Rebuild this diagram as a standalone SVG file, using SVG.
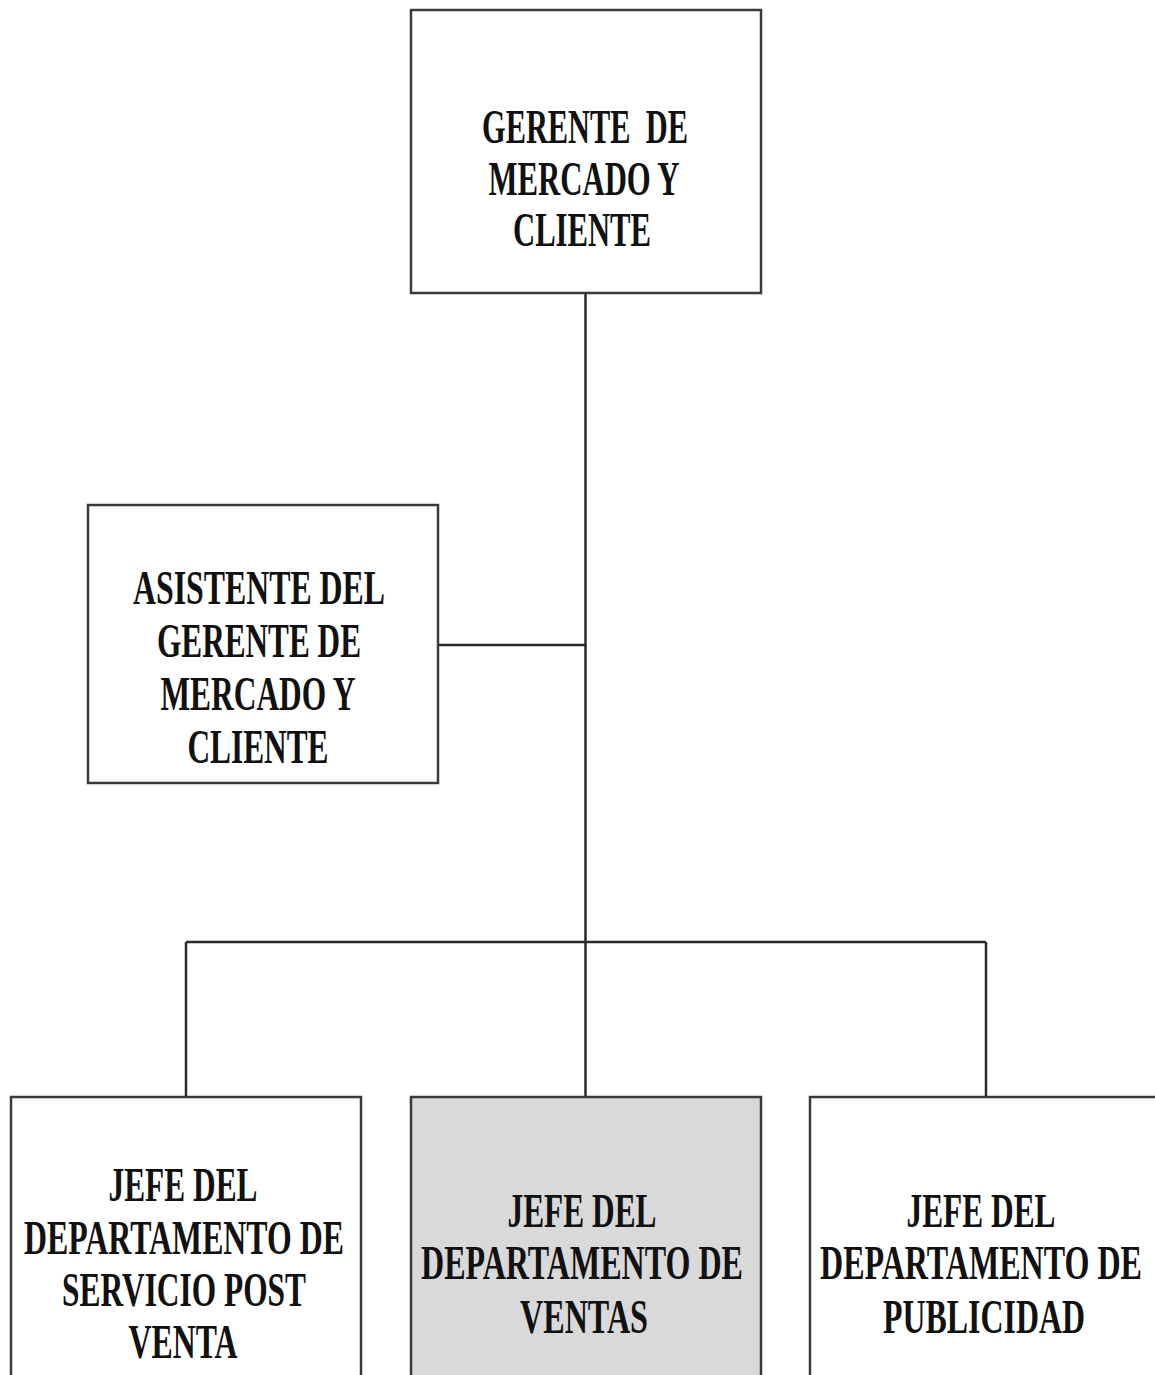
<svg xmlns="http://www.w3.org/2000/svg" width="1155" height="1375" viewBox="0 0 1155 1375">
  <style>
    .box { fill: #ffffff; stroke: #3a3a3a; stroke-width: 2.5; }
    .box.shaded { fill: #d9d9d9; }
    .lbl { font-family: "Liberation Serif", "Times New Roman", serif; font-weight: bold; font-size: 49px; fill: #111111; text-anchor: middle; }
    .wire { fill: none; stroke: #2a2a2a; stroke-width: 2.5; }
  </style>
  <rect x="0" y="0" width="1155" height="1375" fill="#ffffff"/>

  <!-- connectors -->
  <g id="connectors">
    <line class="wire" x1="585.5" y1="293" x2="585.5" y2="1097"/>
    <line class="wire" x1="438" y1="645" x2="585.5" y2="645"/>
    <line class="wire" x1="186" y1="942" x2="986" y2="942"/>
    <line class="wire" x1="186" y1="942" x2="186" y2="1097"/>
    <line class="wire" x1="986" y1="942" x2="986" y2="1097"/>
  </g>

  <!-- top manager -->
  <g id="gerente">
    <rect class="box" x="411" y="10" width="350" height="283"/>
    <text class="lbl" x="585" y="143" textLength="206" lengthAdjust="spacingAndGlyphs" xml:space="preserve">GERENTE  DE</text>
    <text class="lbl" x="584" y="195" textLength="191" lengthAdjust="spacingAndGlyphs">MERCADO Y</text>
    <text class="lbl" x="582" y="246" textLength="138" lengthAdjust="spacingAndGlyphs">CLIENTE</text>
  </g>

  <!-- assistant -->
  <g id="asistente">
    <rect class="box" x="88" y="505" width="350" height="278"/>
    <text class="lbl" x="259" y="604" textLength="252" lengthAdjust="spacingAndGlyphs">ASISTENTE DEL</text>
    <text class="lbl" x="259" y="657" textLength="204" lengthAdjust="spacingAndGlyphs">GERENTE DE</text>
    <text class="lbl" x="258" y="710" textLength="195" lengthAdjust="spacingAndGlyphs">MERCADO Y</text>
    <text class="lbl" x="258" y="763" textLength="141" lengthAdjust="spacingAndGlyphs">CLIENTE</text>
  </g>

  <!-- after-sales service -->
  <g id="jefe-postventa">
    <rect class="box" x="11" y="1097" width="350" height="300"/>
    <text class="lbl" x="183" y="1201" textLength="149" lengthAdjust="spacingAndGlyphs">JEFE DEL</text>
    <text class="lbl" x="184" y="1254" textLength="320" lengthAdjust="spacingAndGlyphs">DEPARTAMENTO DE</text>
    <text class="lbl" x="184" y="1306" textLength="244" lengthAdjust="spacingAndGlyphs">SERVICIO POST</text>
    <text class="lbl" x="183" y="1358" textLength="109" lengthAdjust="spacingAndGlyphs">VENTA</text>
  </g>

  <!-- sales -->
  <g id="jefe-ventas">
    <rect class="box shaded" x="411" y="1097" width="350" height="300"/>
    <text class="lbl" x="582" y="1227" textLength="149" lengthAdjust="spacingAndGlyphs">JEFE DEL</text>
    <text class="lbl" x="582" y="1279" textLength="322" lengthAdjust="spacingAndGlyphs">DEPARTAMENTO DE</text>
    <text class="lbl" x="584" y="1333" textLength="128" lengthAdjust="spacingAndGlyphs">VENTAS</text>
  </g>

  <!-- advertising -->
  <g id="jefe-publicidad">
    <rect class="box" x="810" y="1097" width="360" height="300"/>
    <text class="lbl" x="981" y="1227" textLength="149" lengthAdjust="spacingAndGlyphs">JEFE DEL</text>
    <text class="lbl" x="981" y="1279" textLength="322" lengthAdjust="spacingAndGlyphs">DEPARTAMENTO DE</text>
    <text class="lbl" x="984" y="1333" textLength="202" lengthAdjust="spacingAndGlyphs">PUBLICIDAD</text>
  </g>
</svg>
